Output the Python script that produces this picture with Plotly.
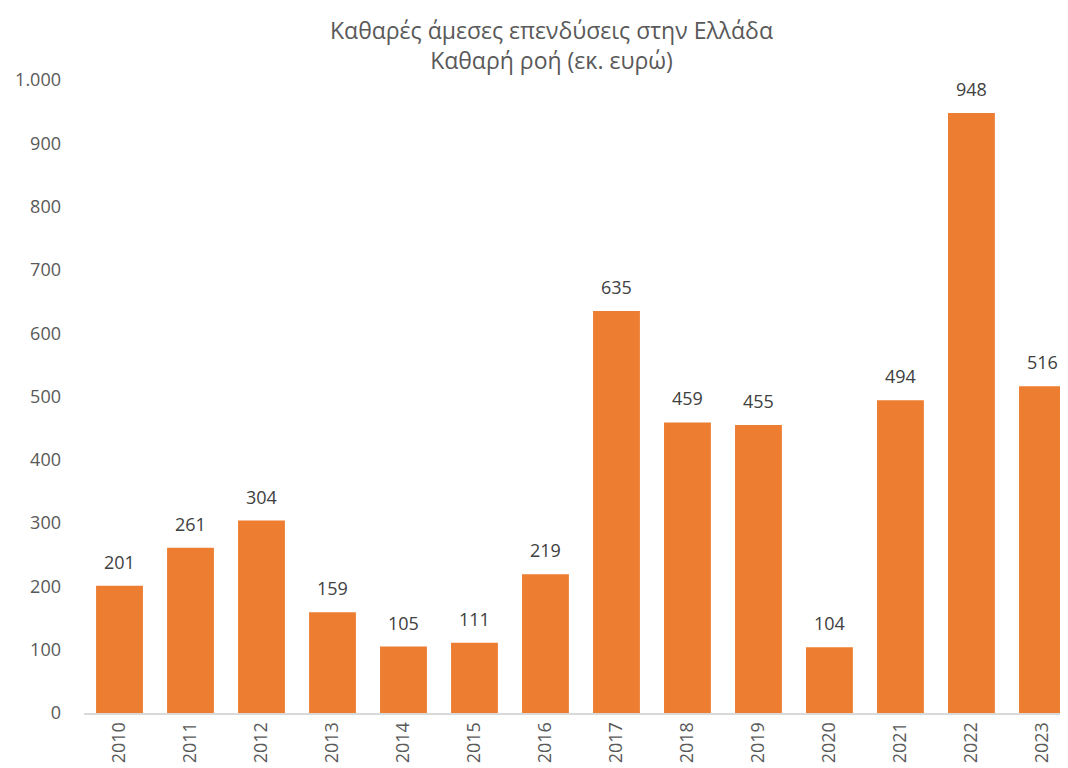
import plotly.graph_objects as go

years = ["2010", "2011", "2012", "2013", "2014", "2015", "2016",
         "2017", "2018", "2019", "2020", "2021", "2022", "2023"]
values = [201, 261, 304, 159, 105, 111, 219, 635, 459, 455, 104, 494, 948, 516]
y_ticks = [0, 100, 200, 300, 400, 500, 600, 700, 800, 900, 1000]
title_text = "Καθαρές άμεσες επενδύσεις στην Ελλάδα<br>Καθαρή ροή (εκ. ευρώ)"

FONT = "Open Sans"
W, H = 1060, 760          # page body adds an 8px margin
ML, MR, MT, MB = 76, 0, 72, 55
PLOT_H = H - MT - MB
PLOT_W = W - ML - MR

fig = go.Figure(go.Bar(
    x=years, y=values,
    marker=dict(color="#ED7D31", line=dict(width=0)),
    width=0.66,
    hoverinfo="x+y",
))

for i, v in enumerate(values):
    fig.add_annotation(
        x=i, y=v, text=str(v), showarrow=False,
        xref="x", yref="y",
        xanchor="center", yanchor="bottom", yshift=10,
        font=dict(family=FONT, size=18, color="#404040"),
    )

# title as a two-line annotation
fig.add_annotation(
    x=(543 - ML) / PLOT_W, y=1 + (MT - 4) / PLOT_H,
    xref="paper", yref="paper", xanchor="center", yanchor="top",
    text=title_text, showarrow=False, align="center",
    font=dict(family=FONT, size=23, color="#595959"),
)

fig.update_layout(
    width=W, height=H,
    paper_bgcolor="white", plot_bgcolor="white",
    margin=dict(l=ML, r=MR, t=MT, b=MB),
    separators=",.",
    showlegend=False,
    font=dict(family=FONT, color="#595959"),
)

fig.update_xaxes(
    type="category",
    range=[-0.5, 13.36],
    tickangle=-90,
    tickfont=dict(family=FONT, size=18, color="#595959"),
    showline=True, linecolor="#D9D9D9", linewidth=2,
    showgrid=False, ticks="", automargin=False,
)
fig.update_yaxes(
    range=[0, 1000],
    tickvals=y_ticks,
    tickformat=",d",
    tickfont=dict(family=FONT, size=18, color="#595959"),
    showgrid=False, zeroline=False, showline=False,
    ticks="", ticklabelstandoff=22, automargin=False,
)

fig.write_html("out.html")
